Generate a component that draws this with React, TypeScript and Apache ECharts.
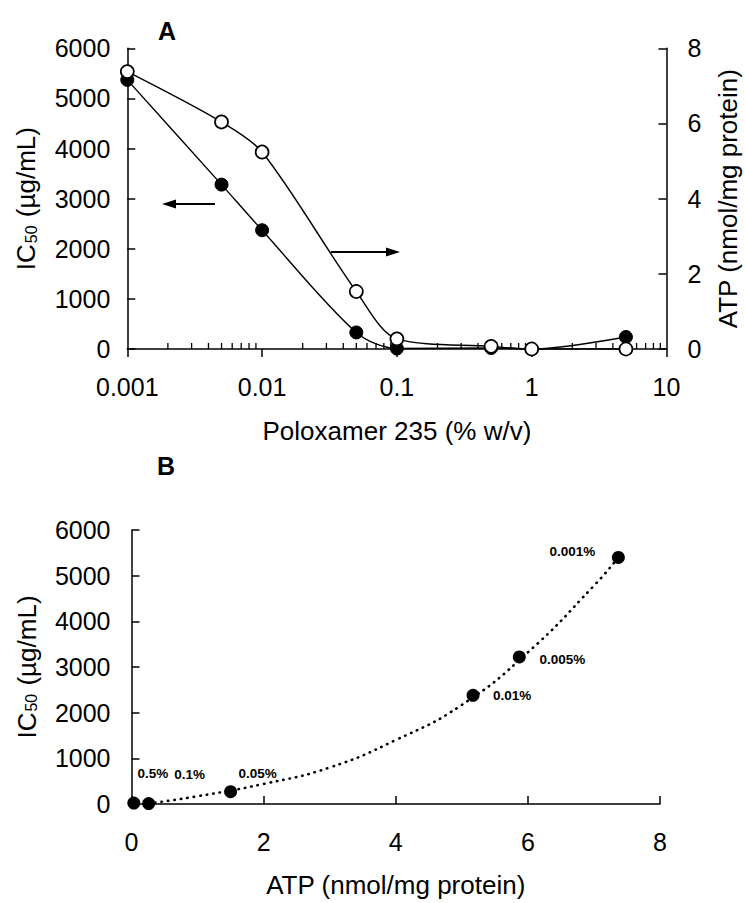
import React, { useEffect, useRef } from "react";
import * as echarts from "echarts";

// Panel A: Poloxamer 235 concentration (% w/v)
const concA = [0.001, 0.005, 0.01, 0.05, 0.1, 0.5, 1, 5];
const ic50A = [5370, 3280, 2370, 330, 10, 20, 0, 240];
const atpA = [7.38, 6.04, 5.24, 1.53, 0.27, 0.07, 0, 0];
const xTicksA = [0.001, 0.01, 0.1, 1, 10];
const xTickLabelsA = ["0.001", "0.01", "0.1", "1", "10"];
const minorTicksA = [
  0.002, 0.003, 0.004, 0.005, 0.006, 0.007, 0.008, 0.009,
  0.02, 0.03, 0.04, 0.05, 0.06, 0.07, 0.08, 0.09,
  0.2, 0.3, 0.4, 0.5, 0.6, 0.7, 0.8, 0.9,
  2, 3, 4, 5, 6, 7, 8, 9,
];

// Panel B: IC50 vs ATP
const atpB = [0.035, 0.26, 1.5, 5.17, 5.87, 7.37];
const ic50B = [20, 10, 270, 2380, 3220, 5400];
const labelsB = ["0.5%", "0.1%", "0.05%", "0.01%", "0.005%", "0.001%"];
const labelOffsetsB = [
  [19, -30],
  [41, -29],
  [27, -18],
  [39, 0],
  [43, 3],
  [-46, -6],
];
// dotted trend curve
const fitAtp = [0.26, 1, 2, 3, 4, 5, 6, 7, 7.37];
const fitIc50 = [10, 170, 440, 800, 1400, 2170, 3320, 4780, 5400];

const FONT = "Arial";
const BLACK = "#000";
const TICK_FS = 25;
const TITLE_FS = 26;

const axisLineStyle = { lineStyle: { color: BLACK, width: 1.5 } };
const plain = (v: number) => String(v);

export default function App() {
  const ref = useRef<HTMLDivElement>(null);

  useEffect(() => {
    if (!ref.current) return;
    const chart = echarts.init(ref.current, null, { renderer: "svg" });

    const yName = {
      name: "{a|IC}{s|50}{a| (µg/mL)}",
      nameLocation: "middle",
      nameTextStyle: {
        rich: {
          a: { fontSize: TITLE_FS, fontFamily: FONT, color: BLACK, lineHeight: 30 },
          s: { fontSize: 16, fontFamily: FONT, color: BLACK, lineHeight: 30, padding: [10, 1, 0, 1] },
        },
      },
    };

    const option: any = {
      animation: false,
      textStyle: { fontFamily: FONT, color: BLACK },
      grid: [
        { left: 127.3, top: 48.3, width: 539.2, height: 300.7, containLabel: false, outerBoundsMode: "none" },
        { left: 131.5, top: 530, width: 528.5, height: 274, containLabel: false, outerBoundsMode: "none" },
      ],
      xAxis: [
        {
          type: "log",
          gridIndex: 0,
          logBase: 10,
          min: 0.001,
          max: 10,
          splitNumber: 4,
          axisLine: { ...axisLineStyle, onZero: false },
          axisTick: { show: true, inside: false, length: 8, lineStyle: { color: BLACK, width: 1.5 } },
          axisLabel: {
            fontSize: TICK_FS,
            color: BLACK,
            fontFamily: FONT,
            margin: 25,
            formatter: (v: number) => {
              let best = 0;
              let bd = Infinity;
              xTicksA.forEach((t, i) => {
                const d = Math.abs(Math.log10(t) - Math.log10(v));
                if (d < bd) { bd = d; best = i; }
              });
              return xTickLabelsA[best];
            },
          },
          splitLine: { show: false },
          name: "Poloxamer 235 (% w/v)",
          nameLocation: "middle",
          nameGap: 69,
          nameTextStyle: { fontSize: TITLE_FS, color: BLACK, fontFamily: FONT },
        },
        {
          type: "value",
          gridIndex: 1,
          min: 0,
          max: 8,
          interval: 2,
          axisLine: { ...axisLineStyle, onZero: false },
          axisTick: { show: true, inside: true, length: 8, lineStyle: { color: BLACK, width: 1.5 } },
          axisLabel: { fontSize: TICK_FS, color: BLACK, fontFamily: FONT, margin: 25, formatter: plain },
          splitLine: { show: false },
          name: "ATP (nmol/mg protein)",
          nameLocation: "middle",
          nameGap: 68,
          nameTextStyle: { fontSize: TITLE_FS, color: BLACK, fontFamily: FONT },
        },
      ],
      yAxis: [
        {
          type: "value",
          gridIndex: 0,
          position: "left",
          min: 0,
          max: 6000,
          interval: 1000,
          axisLine: { show: true, ...axisLineStyle, onZero: false },
          axisTick: { show: true, inside: true, length: 8, lineStyle: { color: BLACK, width: 1.5 } },
          axisLabel: { fontSize: TICK_FS, color: BLACK, fontFamily: FONT, margin: 17, formatter: plain },
          splitLine: { show: false },
          ...yName,
          nameGap: 86,
        },
        {
          type: "value",
          gridIndex: 0,
          position: "right",
          min: 0,
          max: 8,
          interval: 2,
          axisLine: { show: true, ...axisLineStyle, onZero: false },
          axisTick: { show: true, inside: true, length: 8, lineStyle: { color: BLACK, width: 1.5 } },
          axisLabel: { fontSize: TICK_FS, color: BLACK, fontFamily: FONT, margin: 21, formatter: plain },
          splitLine: { show: false },
          name: "ATP (nmol/mg protein)",
          nameLocation: "middle",
          nameGap: 48,
          nameTextStyle: { fontSize: TITLE_FS, color: BLACK, fontFamily: FONT },
        },
        {
          type: "value",
          gridIndex: 1,
          min: 0,
          max: 6000,
          interval: 1000,
          axisLine: { show: true, ...axisLineStyle, onZero: false },
          axisTick: { show: true, inside: true, length: 8, lineStyle: { color: BLACK, width: 1.5 } },
          axisLabel: { fontSize: TICK_FS, color: BLACK, fontFamily: FONT, margin: 21, formatter: plain },
          splitLine: { show: false },
          ...yName,
          nameGap: 90,
        },
      ],
      series: [
        {
          type: "custom",
          xAxisIndex: 0,
          yAxisIndex: 0,
          silent: true,
          z: 1,
          data: minorTicksA.map((v) => [v, 0]),
          renderItem: (_p: any, api: any) => {
            const pt = api.coord([api.value(0), 0]);
            return {
              type: "line",
              shape: { x1: pt[0], y1: pt[1], x2: pt[0], y2: pt[1] - 6 },
              style: { stroke: BLACK, lineWidth: 1.3 },
            };
          },
        },
        {
          name: "IC50",
          type: "line",
          xAxisIndex: 0,
          yAxisIndex: 0,
          smooth: 0.3,
          data: concA.map((c, i) => [c, ic50A[i]]),
          symbol: "circle",
          symbolSize: 13,
          showAllSymbol: true,
          lineStyle: { color: BLACK, width: 1.4 },
          itemStyle: { color: BLACK, borderColor: BLACK, borderWidth: 1, opacity: 1 },
          z: 3,
        },
        {
          name: "ATP",
          type: "line",
          xAxisIndex: 0,
          yAxisIndex: 1,
          smooth: 0.3,
          data: concA.map((c, i) => [c, atpA[i]]),
          symbol: "circle",
          symbolSize: 13,
          showAllSymbol: true,
          lineStyle: { color: BLACK, width: 1.4 },
          itemStyle: { color: "#fff", borderColor: BLACK, borderWidth: 1.7, opacity: 1 },
          z: 4,
        },
        {
          name: "fit",
          type: "line",
          xAxisIndex: 1,
          yAxisIndex: 2,
          smooth: true,
          symbol: "none",
          data: fitAtp.map((a, i) => [a, fitIc50[i]]),
          lineStyle: { color: BLACK, width: 2.6, type: [0.5, 6], cap: "round" },
          z: 3,
        },
        {
          name: "B",
          type: "scatter",
          xAxisIndex: 1,
          yAxisIndex: 2,
          symbol: "circle",
          symbolSize: 13,
          itemStyle: { color: BLACK, opacity: 1 },
          z: 4,
          data: atpB.map((a, i) => ({
            value: [a, ic50B[i]],
            label: {
              show: true,
              formatter: labelsB[i],
              position: "inside",
              offset: labelOffsetsB[i],
              fontSize: 13.5,
              fontWeight: "bold",
              fontFamily: FONT,
              color: BLACK,
              opacity: 1,
              textBorderWidth: 0,
            },
          })),
        },
      ],
      graphic: [
        { type: "text", x: 167, y: 31, style: { text: "A", fontSize: 25, fontWeight: "bold", fontFamily: FONT, fill: BLACK, align: "center", verticalAlign: "middle" } },
        { type: "text", x: 166, y: 466, style: { text: "B", fontSize: 25, fontWeight: "bold", fontFamily: FONT, fill: BLACK, align: "center", verticalAlign: "middle" } },
        { type: "line", shape: { x1: 174, y1: 204, x2: 215, y2: 204 }, style: { stroke: BLACK, lineWidth: 2 } },
        { type: "polygon", shape: { points: [[162, 204], [176, 199.5], [176, 208.5]] }, style: { fill: BLACK } },
        { type: "line", shape: { x1: 331, y1: 252, x2: 388, y2: 252 }, style: { stroke: BLACK, lineWidth: 2 } },
        { type: "polygon", shape: { points: [[400, 252], [386, 247.5], [386, 256.5]] }, style: { fill: BLACK } },
      ],
    };

    chart.setOption(option);
    return () => chart.dispose();
  }, []);

  return (
    <div
      ref={ref}
      style={{ position: "absolute", left: 0, top: 0, width: 745, height: 903, background: "#fff" }}
    />
  );
}
